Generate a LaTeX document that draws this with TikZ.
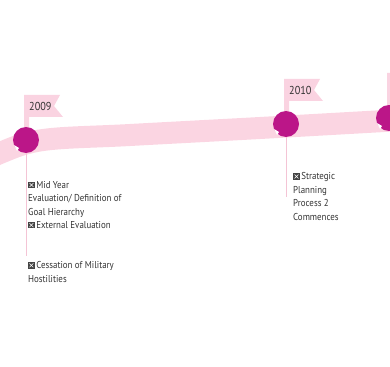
\documentclass[tikz,border=0pt]{standalone}
\usepackage{fontspec}
\setmainfont{PT Sans}[FakeStretch=0.89]
\usetikzlibrary{positioning}
\definecolor{bandpink}{HTML}{FBD5E2}
\definecolor{flagpink}{HTML}{FAD3E1}
\definecolor{stempink}{HTML}{F4C4D5}
\definecolor{plum}{HTML}{BB1688}
\definecolor{ink}{HTML}{333333}
\definecolor{boxgrey}{HTML}{444444}
\tikzset{%
  band/.style={draw=bandpink, line width=22pt},
  milestone/.style={
    circle,
    fill=plum,
    minimum size=26pt,
    inner sep=0pt
  },
  stem/.style={draw=stempink, line width=0.8pt},
  year/.style={text=ink, font=\fontsize{11.5}{13}\selectfont, inner sep=0pt, anchor=base west},
  note/.style={text=ink, font=\fontsize{10}{13.4}\selectfont, align=left, inner sep=0pt, anchor=base west},
  pics/pennant/.style={code={
    \fill[flagpink] (-2,-45) -- (34,-45) -- (28,-34) -- (37,-23) -- (3,-23) -- (3,-12) -- (-2,-12) -- cycle;
  }}
}
\newcommand{\xbox}{\tikz[baseline=0pt,x=1pt,y=1pt]{\fill[boxgrey] (0,0) rectangle (6.5,6.5);
  \draw[white,line width=0.5pt] (1.3,1.3) -- (5.2,5.2) (1.3,5.2) -- (5.2,1.3);}\,}

\begin{document}
\begin{tikzpicture}[x=1pt, y=-1pt]
\path[use as bounding box] (0,0) rectangle (390,366);
\clip (0,0) rectangle (390,366);

% ribbon
\draw[band] plot[smooth, tension=0.6] coordinates {(-12,161) (0,153) (43,140) (130,135) (260,128) (402,120)};

\foreach \yr/\x/\y in {2009/26/140, 2010/286/124, 2011/389/118}
  \pic at (\x,\y) {pennant};

\foreach \yr/\x/\y in {2009/26/140, 2010/286/124, 2011/389/118}
  \node[milestone] (d\yr) at (\x,\y) {};

\foreach \yr in {2009, 2010, 2011}
  \fill[white] ([shift={(-12,5)}]d\yr.center) -- ++(5,3) -- ++(-2,3) -- cycle;

\foreach \yr in {2009, 2010}
  \node[year] (y\yr) at ([shift={(3,-29)}]d\yr.center) {\yr};

\coordinate (e2009) at (26,256);
\coordinate (e2010) at (286,197);
\draw[stem] (d2009) -- (e2009);
\draw[stem] (d2010) -- (e2010);

% base of a multi-line node is its last line
\node[note] (n2009) at (28,282) {\xbox Mid Year\\Evaluation/ Definition of\\Goal Hierarchy\\\xbox External Evaluation\\[26.8pt]\xbox Cessation of Military\\Hostilities};
\node[note] (n2010) at (293,220) {\xbox Strategic\\Planning\\Process 2\\Commences};

\end{tikzpicture}
\end{document}
